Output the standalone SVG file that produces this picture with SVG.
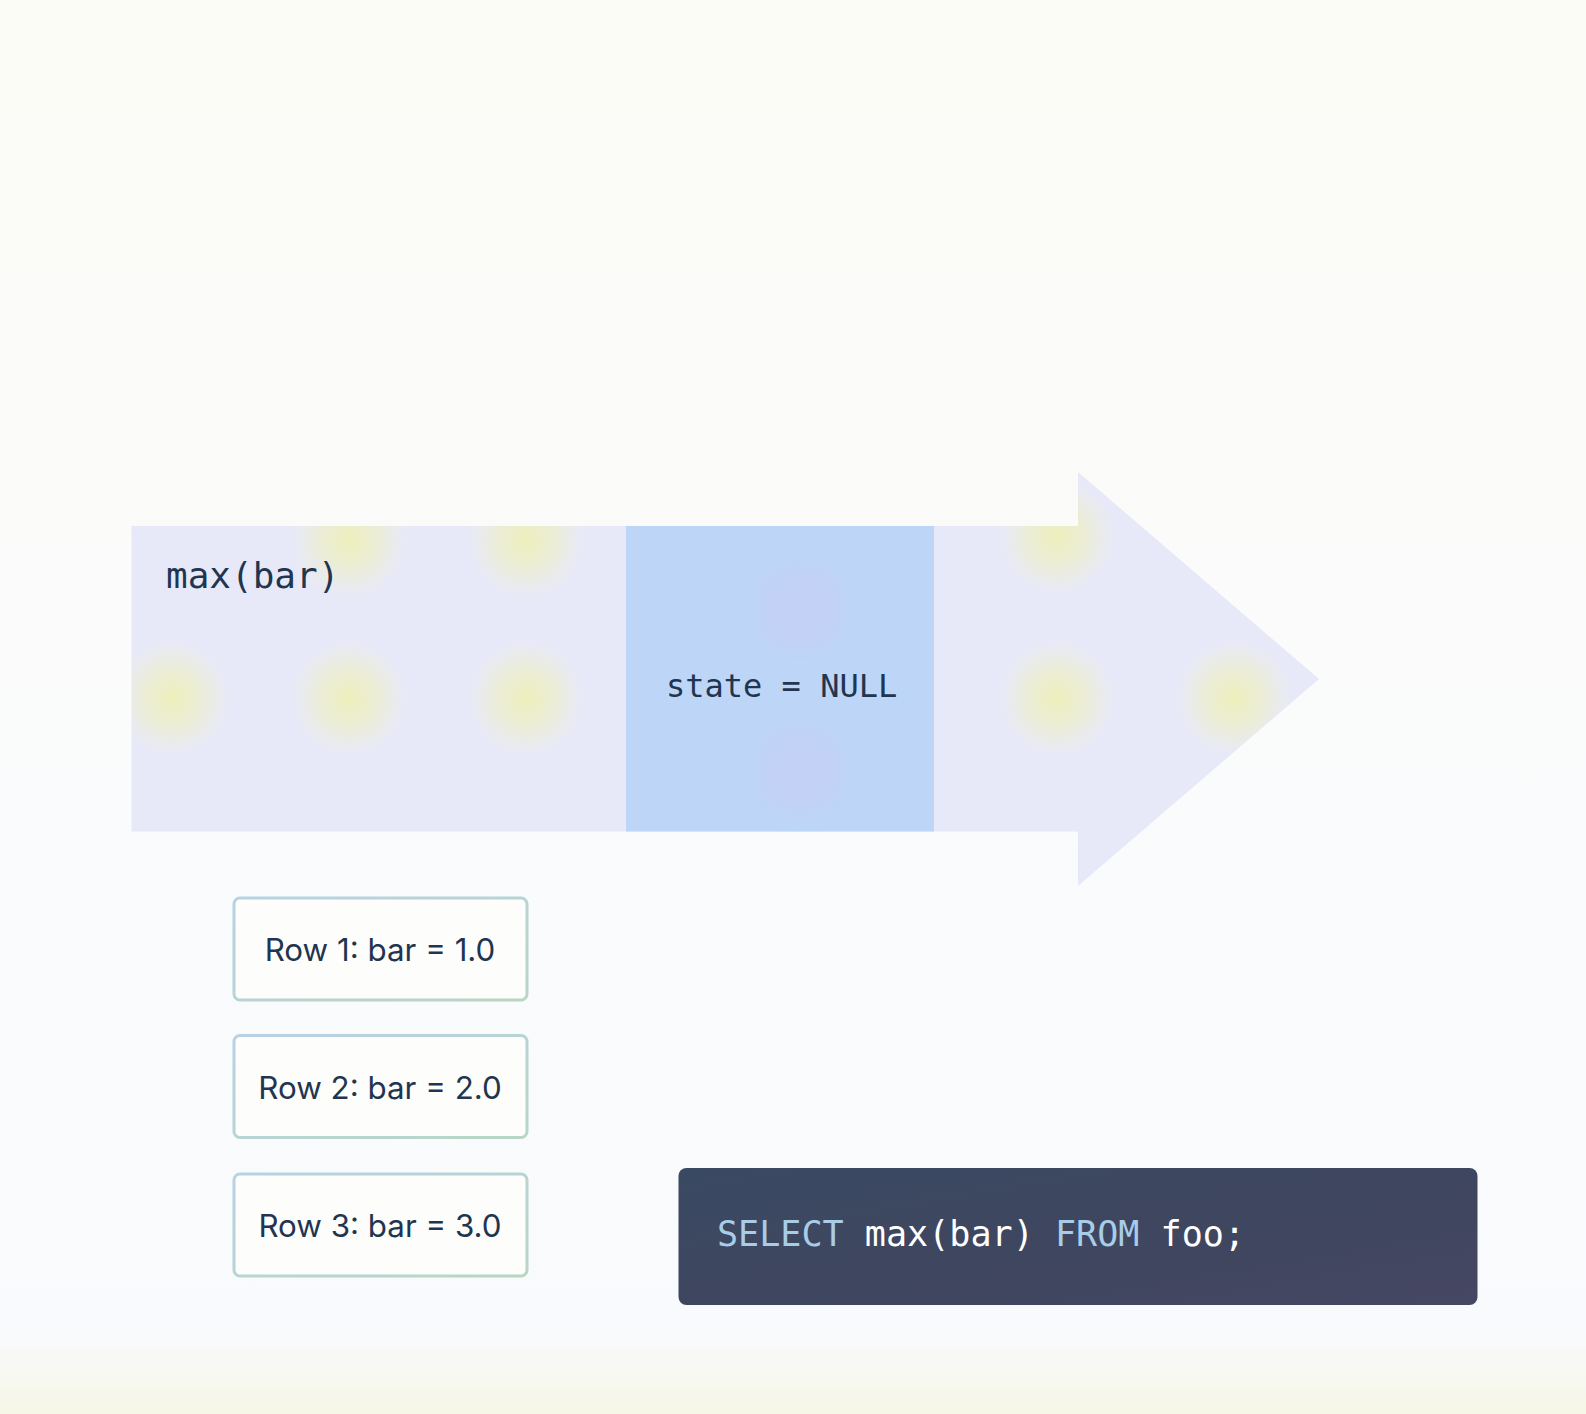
<svg xmlns="http://www.w3.org/2000/svg" width="1586" height="1414" viewBox="0 0 1586 1414">
  <style>
    .mono { font-family: "DejaVu Sans Mono", "Liberation Mono", monospace; fill: #1f3550; }
    .row-box { fill: #fdfdfb; stroke: url(#rowStroke); stroke-width: 3; }
    .row-text { font-family: Inter, "Noto Sans", sans-serif; font-size: 31.3px; fill: #1f3550; text-anchor: middle; }
    .kw { fill: #a8cde8; }
    .plain { fill: #ffffff; }
    .blob { fill: url(#yBlob); }
  </style>
  <defs>
    <linearGradient id="bg" x1="0" y1="0" x2="0" y2="1">
      <stop offset="0" stop-color="#fbfcf6"/>
      <stop offset="0.5" stop-color="#fafbfb"/>
      <stop offset="0.94" stop-color="#f9fafd"/>
      <stop offset="1" stop-color="#f6f7e6"/>
    </linearGradient>
    <radialGradient id="yBlob">
      <stop offset="0" stop-color="#eef0b4" stop-opacity="0.9"/>
      <stop offset="0.5" stop-color="#eef0bc" stop-opacity="0.55"/>
      <stop offset="1" stop-color="#eef0c8" stop-opacity="0"/>
    </radialGradient>
    <radialGradient id="pBlob">
      <stop offset="0" stop-color="#cdc8f2" stop-opacity="0.9"/>
      <stop offset="1" stop-color="#cdc8f2" stop-opacity="0"/>
    </radialGradient>
    <linearGradient id="rowStroke" x1="0" y1="0" x2="1" y2="1">
      <stop offset="0" stop-color="#b7d2e4"/>
      <stop offset="1" stop-color="#b8d6c4"/>
    </linearGradient>
    <linearGradient id="sqlFill" x1="0" y1="0" x2="1" y2="1">
      <stop offset="0" stop-color="#3a4962"/>
      <stop offset="0.6" stop-color="#40465f"/>
      <stop offset="1" stop-color="#454763"/>
    </linearGradient>
    <clipPath id="arrowClip">
      <path d="M131.5 526 H1078 V472 L1319 679 L1078 886 V831.5 H131.5 Z"/>
    </clipPath>
  </defs>

  <rect x="0" y="0" width="1586" height="1414" fill="url(#bg)"/>

  <g id="arrow">
    <path d="M131.5 526 H1078 V472 L1319 679 L1078 886 V831.5 H131.5 Z" fill="#e8e9f8"/>
    <g clip-path="url(#arrowClip)">
      <circle class="blob" cx="349" cy="540" r="58"/>
      <circle class="blob" cx="526" cy="540" r="58"/>
      <circle class="blob" cx="1057" cy="536" r="58"/>
      <circle class="blob" cx="172" cy="698" r="58"/>
      <circle class="blob" cx="349" cy="698" r="58"/>
      <circle class="blob" cx="526" cy="698" r="58"/>
      <circle class="blob" cx="1057" cy="698" r="58"/>
      <circle class="blob" cx="1234" cy="698" r="58"/>
    </g>
    <text class="mono" x="166" y="588" font-size="36">max(bar)</text>
  </g>

  <g id="state">
    <rect x="626" y="526" width="308" height="305.5" fill="#bdd6f8"/>
    <circle cx="800" cy="608" r="60" fill="url(#pBlob)" opacity="0.6"/>
    <circle cx="800" cy="770" r="60" fill="url(#pBlob)" opacity="0.6"/>
    <text class="mono" x="666" y="697" font-size="32">state = NULL</text>
  </g>

  <g id="row1">
    <rect class="row-box" x="234" y="898" width="293" height="102" rx="6"/>
    <text class="row-text" x="380" y="961">Row 1: bar = 1.0</text>
  </g>
  <g id="row2">
    <rect class="row-box" x="234" y="1035.5" width="293" height="102" rx="6"/>
    <text class="row-text" x="380" y="1098.5">Row 2: bar = 2.0</text>
  </g>
  <g id="row3">
    <rect class="row-box" x="234" y="1174" width="293" height="102" rx="6"/>
    <text class="row-text" x="380" y="1237">Row 3: bar = 3.0</text>
  </g>

  <g id="sql">
    <rect x="678.5" y="1168" width="799" height="137" rx="8" fill="url(#sqlFill)"/>
    <text class="mono" x="717" y="1246" font-size="35.1"><tspan class="kw">SELECT</tspan><tspan class="plain"> max(bar) </tspan><tspan class="kw">FROM</tspan><tspan class="plain"> foo;</tspan></text>
  </g>

  <g id="connectors"/>
</svg>
